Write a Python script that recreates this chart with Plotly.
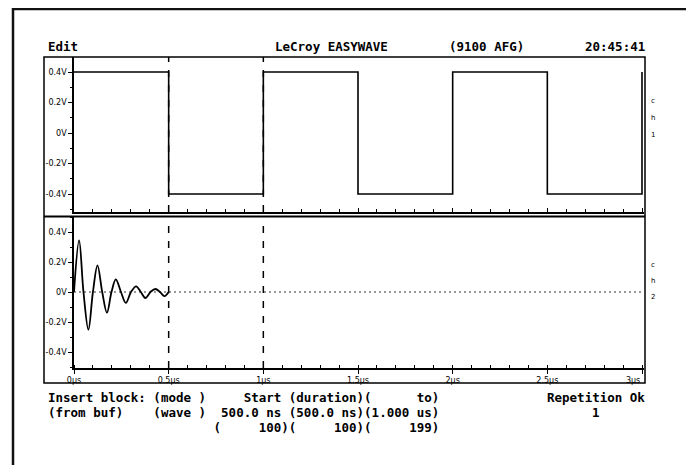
import plotly.graph_objects as go

W, H = 694, 465

# ---------------- data ----------------
square_t = [0.0, 0.5, 1.0, 1.5, 2.0, 2.5, 3.0]
square_v = [0.4, -0.4, 0.4, -0.4, 0.4, -0.4, 0.4]

ring_t = [0.000, 0.027, 0.050, 0.076, 0.100, 0.124, 0.149, 0.174, 0.198, 0.221,
          0.248, 0.274, 0.301, 0.328, 0.353, 0.377, 0.404, 0.430, 0.454, 0.478, 0.500]
ring_v = [0.0, 0.344, 0.0, -0.251, 0.0, 0.178, 0.0, -0.138, 0.0, 0.084,
          0.0, -0.073, 0.0, 0.038, 0.0, -0.040, 0.0, 0.020, 0.0, -0.027, 0.0]

baseline_t = [0.0, 3.0]
baseline_v = [0.0, 0.0]

cursor_t = [0.5, 1.0]

x_tickvals = [0, 0.5, 1.0, 1.5, 2.0, 2.5, 3.0]
x_ticktext = ["0µs", "0.5µs", "1µs", "1.5µs", "2µs", "2.5µs", "3µs"]
y_tickvals = [-0.4, -0.2, 0.0, 0.2, 0.4]
y_ticktext = ["-0.4V", "-0.2V", "0V", "0.2V", "0.4V"]

header_items = [(0, "Edit"), (30, "LeCroy EASYWAVE"), (53, "(9100 AFG)"), (71, "20:45:41")]
footer_rows = [
    "Insert block: (mode )     Start (duration)(      to)",
    "(from buf)    (wave )  500.0 ns (500.0 ns)(1.000 us)",
    "                      (     100)(     100)(     199)",
]
footer_right = [(66, 0, "Repetition Ok"), (72, 1, "1")]
ch1_label = ["c", "h", "1"]
ch2_label = ["c", "h", "2"]

# ---------------- geometry helpers ----------------
OFF_X, OFF_Y = 8, 8   # page body margin

def px(x):
    return (x - OFF_X) / W

def py(y):
    return 1 - (y - OFF_Y) / H

X0, X1 = 74, 644          # plot area left/right (screen px)
UP_T, UP_B = 57, 212      # upper plot top/bottom
LO_T, LO_B = 217, 368     # lower plot top/bottom
PPU = (642 - 74) / 3.0    # px per µs
xr = [0, (X1 - X0) / PPU]

up_zero, up_scale = 133, 152.5
lo_zero, lo_scale = 292, 150.0

FONT_MONO = "DejaVu Sans Mono"
CHW = 7.56
TXT_X0 = 46

# last x label sits right-justified against the frame in the original
x_ticktext_disp = x_ticktext[:-1] + [x_ticktext[-1] + "\u00a0" * 7]

fig = go.Figure()

fig.add_trace(go.Scatter(x=square_t, y=square_v, mode="lines", line=dict(color="black", width=1.6, shape="hv"),
                         xaxis="x", yaxis="y", cliponaxis=False, showlegend=False, hoverinfo="skip"))
fig.add_trace(go.Scatter(x=baseline_t, y=baseline_v, mode="lines", line=dict(color="#333", width=1, dash="2px,3px"),
                         xaxis="x2", yaxis="y2", showlegend=False, hoverinfo="skip"))
fig.add_trace(go.Scatter(x=ring_t, y=ring_v, mode="lines", line=dict(color="black", width=1.8, shape="spline", smoothing=1.0),
                         xaxis="x2", yaxis="y2", cliponaxis=False, showlegend=False, hoverinfo="skip"))

tickfont = dict(family="DejaVu Sans", size=8, color="black")

common_x = dict(range=xr, showgrid=False, zeroline=False, showline=True, linecolor="black", linewidth=1.5,
                tickvals=x_tickvals, tickcolor="black", automargin=False,
                minor=dict(tick0=0, dtick=0.1, ticks="inside", ticklen=3, tickcolor="black", tickwidth=1, showgrid=False))
common_y = dict(showgrid=False, zeroline=False, showline=True, linecolor="black", linewidth=1.5,
                tickvals=y_tickvals, ticktext=y_ticktext, ticks="outside", ticklen=4, tickcolor="black",
                tickfont=tickfont, automargin=False,
                minor=dict(tick0=0, dtick=0.1, ticks="outside", ticklen=2, tickcolor="black", showgrid=False))

fig.update_layout(
    template="none",
    width=W, height=H, margin=dict(l=0, r=0, t=0, b=0, autoexpand=False),
    paper_bgcolor="white", plot_bgcolor="rgba(0,0,0,0)",
    xaxis=dict(domain=[px(X0), px(X1)], anchor="y", showticklabels=False, ticks="inside", ticklen=4, **common_x),
    yaxis=dict(domain=[py(UP_B), py(UP_T)], anchor="x",
               range=[-(UP_B - up_zero) / up_scale, (up_zero - UP_T) / up_scale], **common_y),
    xaxis2=dict(domain=[px(X0), px(X1)], anchor="y2", ticktext=x_ticktext_disp, ticks="outside", ticklen=4,
                tickfont=tickfont, **common_x),
    yaxis2=dict(domain=[py(LO_B), py(LO_T)], anchor="x2",
                range=[-(LO_B - lo_zero) / lo_scale, (lo_zero - LO_T) / lo_scale], **common_y),
)

shapes = []
# outer frame
shapes.append(dict(type="rect", xref="paper", yref="paper", x0=px(13), x1=px(690), y0=py(480), y1=py(9),
                   line=dict(color="#111", width=2.5)))
# panel box
shapes.append(dict(type="rect", xref="paper", yref="paper", x0=px(44), x1=px(645), y0=py(383), y1=py(57),
                   line=dict(color="black", width=1.5)))
# divider
shapes.append(dict(type="line", xref="paper", yref="paper", x0=px(44), x1=px(645), y0=py(216.5), y1=py(216.5),
                   line=dict(color="black", width=2)))
# cursors
for t in cursor_t:
    for (a, b) in [(UP_T, UP_B), (LO_T + 6, LO_B)]:
        shapes.append(dict(type="line", xref="x", yref="paper", x0=t, x1=t, y0=py(b), y1=py(a),
                           line=dict(color="black", width=1.5, dash="7px,8px")))
fig.update_layout(shapes=shapes)

def mono(s):
    return s.replace(" ", "\u00a0")

ann = []
for col, s in header_items:
    ann.append(dict(x=px(TXT_X0 + col * CHW), y=py(47), xref="paper", yref="paper", text="<b>" + mono(s) + "</b>",
                    showarrow=False, xanchor="left", yanchor="middle",
                    font=dict(family=FONT_MONO, size=12.5, color="black")))
for i, row in enumerate(footer_rows):
    ann.append(dict(x=px(TXT_X0), y=py(397 + 15 * i), xref="paper", yref="paper", text="<b>" + mono(row) + "</b>",
                    showarrow=False, xanchor="left", yanchor="middle",
                    font=dict(family=FONT_MONO, size=12.5, color="black")))
for col, r, s in footer_right:
    ann.append(dict(x=px(TXT_X0 + col * CHW), y=py(397 + 15 * r), xref="paper", yref="paper", text="<b>" + mono(s) + "</b>",
                    showarrow=False, xanchor="left", yanchor="middle",
                    font=dict(family=FONT_MONO, size=12.5, color="black")))
for k, ch in enumerate(ch1_label):
    ann.append(dict(x=px(649), y=py(101 + 17 * k), xref="paper", yref="paper", text=ch, showarrow=False,
                    xanchor="left", yanchor="middle", font=dict(family="DejaVu Sans", size=7, color="black")))
for k, ch in enumerate(ch2_label):
    ann.append(dict(x=px(649), y=py(265 + 16 * k), xref="paper", yref="paper", text=ch, showarrow=False,
                    xanchor="left", yanchor="middle", font=dict(family="DejaVu Sans", size=7, color="black")))
fig.update_layout(annotations=ann)

fig.write_html("out.html")
